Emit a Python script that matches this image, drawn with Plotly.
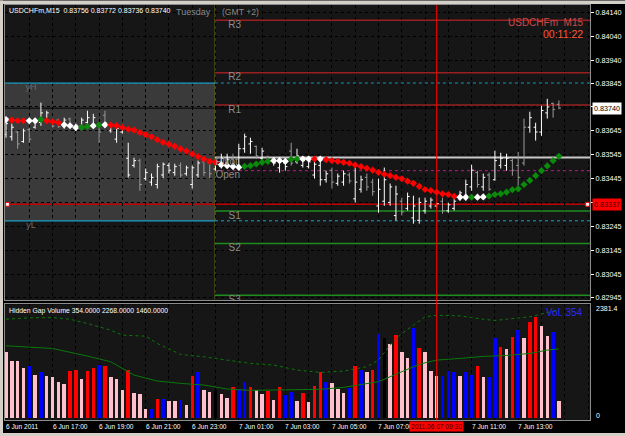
import plotly.graph_objects as go

# ---------------- data ----------------
N = 96
bar_index = list(range(N))  # M15 bars, 6 Jun 15:00 .. 7 Jun 14:45

opens = [0.83630,0.83620,0.83640,0.83600,0.83650,0.83660,0.83680,0.83690,0.83680,0.83690,
         0.83665,0.83695,0.83655,0.83665,0.83680,0.83670,0.83675,0.83710,0.83645,0.83610,
         0.83640,0.83530,0.83500,0.83520,0.83445,0.83430,0.83420,0.83460,0.83500,0.83470,
         0.83500,0.83465,0.83420,0.83460,0.83515,0.83510,0.83485,0.83495,0.83510,0.83530,
         0.83500,0.83570,0.83590,0.83580,0.83530,0.83535,0.83520,0.83490,0.83510,0.83560,
         0.83515,0.83500,0.83495,0.83460,0.83500,0.83440,0.83480,0.83425,0.83430,0.83460,
         0.83360,0.83400,0.83450,0.83430,0.83330,0.83350,0.83345,0.83290,0.83350,0.83320,
         0.83280,0.83270,0.83310,0.83330,0.83330,0.83350,0.83310,0.83320,0.83360,0.83360,
         0.83410,0.83470,0.83410,0.83460,0.83440,0.83500,0.83500,0.83520,0.83500,0.83510,
         0.83660,0.83660,0.83640,0.83720,0.83760,0.83756]
highs = [0.83696,0.83675,0.83645,0.83654,0.83658,0.83687,0.83763,0.83729,0.83687,0.83696,
         0.83700,0.83700,0.83675,0.83700,0.83729,0.83716,0.83679,0.83729,0.83675,0.83666,
         0.83658,0.83595,0.83532,0.83528,0.83487,0.83466,0.83507,0.83512,0.83512,0.83507,
         0.83512,0.83499,0.83499,0.83520,0.83528,0.83528,0.83512,0.83549,0.83549,0.83549,
         0.83591,0.83633,0.83616,0.83583,0.83574,0.83541,0.83532,0.83532,0.83520,0.83595,
         0.83570,0.83532,0.83528,0.83520,0.83528,0.83478,0.83491,0.83466,0.83478,0.83470,
         0.83491,0.83457,0.83466,0.83445,0.83445,0.83491,0.83424,0.83415,0.83365,0.83386,
         0.83373,0.83365,0.83365,0.83365,0.83344,0.83365,0.83344,0.83365,0.83394,0.83440,
         0.83503,0.83478,0.83466,0.83470,0.83562,0.83553,0.83549,0.83528,0.83557,0.83696,
         0.83725,0.83679,0.83750,0.83779,0.83763,0.83772]
lows = [0.83616,0.83604,0.83570,0.83595,0.83595,0.83654,0.83666,0.83679,0.83658,0.83658,
        0.83654,0.83658,0.83645,0.83658,0.83666,0.83658,0.83595,0.83666,0.83637,0.83595,
        0.83633,0.83449,0.83491,0.83394,0.83436,0.83415,0.83403,0.83445,0.83466,0.83457,
        0.83449,0.83457,0.83403,0.83449,0.83457,0.83445,0.83478,0.83487,0.83499,0.83491,
        0.83487,0.83553,0.83549,0.83528,0.83520,0.83512,0.83499,0.83470,0.83478,0.83499,
        0.83507,0.83491,0.83487,0.83445,0.83415,0.83428,0.83403,0.83415,0.83415,0.83424,
        0.83344,0.83386,0.83394,0.83373,0.83302,0.83331,0.83331,0.83269,0.83290,0.83311,
        0.83256,0.83256,0.83298,0.83319,0.83323,0.83298,0.83302,0.83311,0.83352,0.83352,
        0.83394,0.83407,0.83394,0.83394,0.83436,0.83487,0.83478,0.83457,0.83415,0.83499,
        0.83637,0.83604,0.83624,0.83696,0.83700,0.83736]
closes = [0.83675,0.83660,0.83590,0.83645,0.83610,0.83680,0.83720,0.83720,0.83665,0.83662,
          0.83690,0.83670,0.83668,0.83690,0.83700,0.83700,0.83640,0.83680,0.83670,0.83655,
          0.83655,0.83460,0.83520,0.83420,0.83470,0.83450,0.83495,0.83505,0.83480,0.83495,
          0.83460,0.83490,0.83490,0.83510,0.83470,0.83465,0.83505,0.83530,0.83525,0.83505,
          0.83570,0.83620,0.83600,0.83540,0.83560,0.83520,0.83510,0.83525,0.83495,0.83510,
          0.83540,0.83520,0.83515,0.83505,0.83440,0.83465,0.83430,0.83455,0.83465,0.83435,
          0.83430,0.83440,0.83410,0.83390,0.83400,0.83440,0.83410,0.83380,0.83305,0.83370,
          0.83330,0.83345,0.83350,0.83355,0.83340,0.83310,0.83335,0.83350,0.83385,0.83420,
          0.83480,0.83420,0.83450,0.83400,0.83520,0.83530,0.83530,0.83480,0.83450,0.83660,
          0.83700,0.83640,0.83730,0.83745,0.83735,0.83740]
bar_tone = list("WWGWGWWWGG" "WGWWWWGGWW" "WWWGWWWWWW" "GWWWGGWWWG" "WWWGWGWWWG"
                "WWWWWWGWWG" "WWGGWWWWGW" "WWWWWGWWWW" "WGWGWWWGGG" "WWWWGG")

ma_dots = [0.83692,0.83690,0.83687,0.83687,0.83687,0.83687,0.83692,0.83687,0.83683,0.83679,
           0.83670,0.83666,0.83659,0.83659,0.83663,0.83666,0.83669,0.83670,0.83669,0.83666,
           0.83659,0.83652,0.83648,0.83638,0.83629,0.83620,0.83608,0.83597,0.83589,0.83580,
           0.83569,0.83560,0.83548,0.83537,0.83527,0.83517,0.83513,0.83503,0.83499,0.83495,
           0.83492,0.83496,0.83499,0.83506,0.83513,0.83517,0.83520,0.83520,0.83517,0.83526,
           0.83527,0.83527,0.83527,0.83527,0.83527,0.83524,0.83520,0.83517,0.83513,0.83509,
           0.83502,0.83495,0.83488,0.83480,0.83471,0.83463,0.83457,0.83450,0.83444,0.83434,
           0.83425,0.83412,0.83399,0.83395,0.83388,0.83381,0.83378,0.83371,0.83367,0.83367,
           0.83367,0.83367,0.83368,0.83372,0.83378,0.83381,0.83388,0.83398,0.83402,0.83420,
           0.83437,0.83457,0.83478,0.83498,0.83520,0.83538]
ma_state = list("WRRRWWGRRR" "WWWGGWGWRR" "RRRRRRRRRR" "RRRRRRRWWW" "WGGGGGWWWG"
                "GWWRWRRRRR" "RRRRRRRRRR" "RRRRRRRRWW" "GWWGGGGGGG" "GGGGGG")

volumes = [1400,1204,1204,1050,1099,910,966,875,868,749,
           721,994,1015,826,994,1057,1120,1085,868,826,
           595,1015,532,511,182,196,399,399,364,364,
           378,280,875,966,588,539,595,511,427,658,
           609,756,658,581,511,574,385,658,490,546,
           364,525,343,679,973,756,742,616,525,630,
           1092,1001,959,1015,1764,1680,1561,1750,1386,1267,
           1890,1477,1386,987,875,889,994,973,882,973,
           910,1092,854,861,1680,1505,1463,1701,1855,1694,
           2016,2135,1946,1729,1813,354]
vol_state = list("PPPPBPBPPP" "PRRPRRBRPP" "PRPPPBRBPP" "BPRBPPKPPR" "BBRPPRPRBB"
                 "PRPRRBPPPB" "RBPRBKPRPP" "BRPPPBBBPB" "BRPBBRPRBP" "RRPPBP")

vma_idx = [0,8,14,18,22,26,30,34,38,42,46,50,54,58,62,64,66,68,70,72,74,78,82,86,90,93,95]
vma_val = [1526,1470,1309,1190,910,784,735,700,616,588,595,609,609,651,728,770,875,980,
           1085,1169,1225,1260,1302,1323,1365,1435,1460]
vband_idx = [0,4,8,11,14,18,20,24,26,30,34,38,42,46,50,54,58,62,64,66,68,70,72,74,78,82,84,86,90,93,95]
vband_val = [2086,2114,2121,2086,1995,1855,1750,1729,1575,1344,1295,1225,1155,1120,1015,966,
             994,1085,1225,1540,1785,1960,2135,2170,2156,2086,2058,2086,2135,2226,2268]

pivot_names = ["R3", "R2", "R1", "S1", "S2", "S3"]
pivot_vals = [0.84108, 0.83888, 0.83753, 0.83309, 0.83173, 0.82956]
pivot_main = 0.83533
day_open = 0.83478
y_high = 0.83845
y_low = 0.83268
hline_price = 0.83337
bid_price = 0.83740
day_start_bar = 36      # 7 Jun 00:00
cursor_bar = 74         # 7 Jun 09:30

price_ticks = [0.84140, 0.84040, 0.83940, 0.83845, 0.83745, 0.83645, 0.83545,
               0.83445, 0.83345, 0.83245, 0.83145, 0.83045, 0.82945]
price_tick_text = ["0.84140", "0.84040", "0.83940", "0.83845", "", "0.83645", "0.83545",
                   "0.83445", "", "0.83245", "0.83145", "0.83045", "0.82945"]
date_label_bars = [0, 8, 16, 24, 32, 40, 48, 56, 64, 80, 88]
date_label_text = ["6 Jun 2011", "6 Jun 17:00", "6 Jun 19:00", "6 Jun 21:00", "6 Jun 23:00",
                   "7 Jun 01:00", "7 Jun 03:00", "7 Jun 05:00", "7 Jun 07:00",
                   "7 Jun 11:00", "7 Jun 13:00"]
grid_bars = list(range(0, 101, 4))

# ---------------- styling ----------------
FONT = "Liberation Sans, Arial, sans-serif"
BG = "#161616"
tone_color = {"W": "#ffffff", "G": "#9a9a9a"}
dot_color = {"W": "#ffffff", "R": "#ff0000", "G": "#0b8a0b"}
vol_color = {"P": "#ffc0cb", "B": "#0000ff", "R": "#ff0000", "K": "#000000"}

fig = go.Figure()

for tone in ("W", "G"):
    sel = [i for i in bar_index if bar_tone[i] == tone]
    c = tone_color[tone]
    fig.add_trace(go.Ohlc(
        x=[bar_index[i] for i in sel],
        open=[opens[i] for i in sel], high=[highs[i] for i in sel],
        low=[lows[i] for i in sel], close=[closes[i] for i in sel],
        increasing=dict(line=dict(color=c, width=1)),
        decreasing=dict(line=dict(color=c, width=1)),
        tickwidth=0.35, hoverinfo="skip", showlegend=False,
        xaxis="x", yaxis="y"))

fig.add_trace(go.Scatter(
    x=bar_index, y=ma_dots, mode="markers",
    marker=dict(symbol="diamond", size=5.5, color=[dot_color[s] for s in ma_state],
                line=dict(width=0)),
    hoverinfo="skip", showlegend=False, xaxis="x", yaxis="y"))

# pivot labels (clipped to the main pane)
fig.add_trace(go.Scatter(
    x=[day_start_bar + 3.3] * len(pivot_names), y=pivot_vals, mode="text",
    text=pivot_names, textposition="bottom center",
    textfont=dict(family=FONT, size=10, color="#8c8c8c"),
    hoverinfo="skip", showlegend=False, xaxis="x", yaxis="y"))
fig.add_trace(go.Scatter(
    x=[day_start_bar, day_start_bar], y=[day_open, pivot_main], mode="text",
    text=["Open", "Pivot"], textposition="bottom right",
    textfont=dict(family=FONT, size=10, color="#8c8c8c"),
    hoverinfo="skip", showlegend=False, xaxis="x", yaxis="y"))
fig.add_trace(go.Scatter(
    x=[4.3, 4.3], y=[y_high, y_low], mode="text",
    text=["yH", "yL"], textposition="bottom center",
    textfont=dict(family=FONT, size=9, color="#6a6a6a"),
    hoverinfo="skip", showlegend=False, xaxis="x", yaxis="y"))

fig.add_trace(go.Bar(
    x=bar_index, y=volumes, width=0.6,
    marker=dict(color=[vol_color[s] for s in vol_state], line=dict(width=0)),
    hoverinfo="skip", showlegend=False, xaxis="x2", yaxis="y2"))
fig.add_trace(go.Scatter(
    x=vma_idx, y=vma_val, mode="lines", line=dict(color="#0a780a", width=1),
    hoverinfo="skip", showlegend=False, xaxis="x2", yaxis="y2"))
fig.add_trace(go.Scatter(
    x=vband_idx, y=vband_val, mode="lines", line=dict(color="#0a780a", width=1, dash="dot"),
    hoverinfo="skip", showlegend=False, xaxis="x2", yaxis="y2"))

# ---------------- shapes ----------------
shapes = []
# previous-day range shading
shapes.append(dict(type="rect", xref="paper", x0=0, x1=0.3605, yref="y", y0=y_low, y1=y_high,
                   fillcolor="#3a3a3a", line=dict(width=0), layer="below"))
for lvl in (y_high, y_low):
    shapes.append(dict(type="line", xref="x", x0=-0.2, x1=day_start_bar - 0.1, yref="y",
                       y0=lvl, y1=lvl, line=dict(color="#1ea0c8", width=1.2), layer="between"))
    shapes.append(dict(type="line", xref="x", x0=day_start_bar - 0.1, x1=100.4, yref="y",
                       y0=lvl, y1=lvl, line=dict(color="#1ea0c8", width=1, dash="dot"),
                       layer="between"))
for name, lvl in zip(pivot_names, pivot_vals):
    col = "#9a2020" if name.startswith("R") else "#1e8c1e"
    shapes.append(dict(type="line", xref="x", x0=day_start_bar - 0.1, x1=100.4, yref="y",
                       y0=lvl, y1=lvl, line=dict(color=col, width=1.5), layer="between"))
shapes.append(dict(type="line", xref="x", x0=day_start_bar - 0.1, x1=100.4, yref="y",
                   y0=pivot_main, y1=pivot_main, line=dict(color="#c8c8c8", width=2),
                   layer="between"))
shapes.append(dict(type="line", xref="x", x0=day_start_bar - 0.1, x1=100.4, yref="y",
                   y0=day_open, y1=day_open, line=dict(color="#b0207e", width=1, dash="dot"),
                   layer="between"))
shapes.append(dict(type="line", xref="paper", x0=0, x1=1, yref="y",
                   y0=hline_price, y1=hline_price, line=dict(color="#c00000", width=1.5),
                   layer="between"))
shapes.append(dict(type="line", xref="paper", x0=0, x1=1, yref="y",
                   y0=bid_price, y1=bid_price, line=dict(color="#000000", width=1),
                   layer="between"))
# day separator
shapes.append(dict(type="line", xref="x", x0=day_start_bar - 0.1, x1=day_start_bar - 0.1,
                   yref="paper", y0=0.2885, y1=1, line=dict(color="#5e5e10", width=1),
                   layer="between"))
# cursor vertical line through both panes
shapes.append(dict(type="line", xref="x", x0=cursor_bar, x1=cursor_bar, yref="paper",
                   y0=0, y1=1, line=dict(color="#ff0000", width=1), layer="above"))
# small line-end squares
for x0, x1 in ((0.001, 0.0075), (0.9925, 0.999)):
    shapes.append(dict(type="rect", xref="paper", x0=x0, x1=x1, yref="y",
                       y0=hline_price - 0.00008, y1=hline_price + 0.00008,
                       fillcolor="#ffffff", line=dict(color="#ff0000", width=1), layer="above"))
# window chrome
chrome = "#d4d0c8"
shapes.append(dict(type="rect", xref="paper", yref="paper", x0=-0.01, x1=1.06, y0=1.0024,
                   y1=1.011, fillcolor=chrome, line=dict(width=0)))
shapes.append(dict(type="rect", xref="paper", yref="paper", x0=-0.01, x1=-0.0034, y0=-0.04,
                   y1=1.011, fillcolor=chrome, line=dict(width=0)))
shapes.append(dict(type="rect", xref="paper", yref="paper", x0=-0.01, x1=1.06, y0=-0.04,
                   y1=-0.0315, fillcolor=chrome, line=dict(width=0)))

# ---------------- annotations ----------------
ann = []
def txt(text, x, y, size, color, xanchor="left", xref="paper", yref="paper", **kw):
    d = dict(text=text, x=x, y=y, xref=xref, yref=yref, xanchor=xanchor, yanchor="middle",
             showarrow=False, font=dict(family=FONT, size=size, color=color))
    d.update(kw)
    ann.append(d)

txt("USDCHFm,M15  0.83756 0.83772 0.83736 0.83740", 0.0034, 0.9856, 7, "#ffffff")
txt("Tuesday", 0.289, 0.9832, 9, "#8a8a8a")
txt("(GMT +2)", 0.367, 0.9832, 8.6, "#8a8a8a")
txt("USDCHFm  M15", 0.9915, 0.959, 10, "#cc4a4a", xanchor="right")
txt("00:11:22", 0.9915, 0.9303, 10.5, "#ff5533", xanchor="right")
txt("Hidden Gap Volume 354.0000 2268.0000 1460.0000", 0.0034, 0.262, 6.8, "#ffffff")
txt("Vol. 354", 0.9915, 0.260, 10, "#2a2aff", xanchor="right")
txt("2381.4", 1.007, 0.2692, 7, "#ffffff")
txt("0", 1.007, 0.012, 7, "#ffffff")
txt("0.83740", 1.003, bid_price, 7.2, "#000000", yref="y", bgcolor="#ffffff", borderpad=1)
txt("0.83337", 1.003, hline_price, 7.2, "#400000", yref="y", bgcolor="#ff0000", borderpad=1)
for b, t in zip(date_label_bars, date_label_text):
    txt(t, b, -0.0168, 6.6, "#ffffff", xref="x", xshift=-2)
txt("2011.06.07 09:30", cursor_bar, -0.0168, 6.6, "#3a0000", xanchor="center", xref="x",
    bgcolor="#ff0000", borderpad=1)

axis_common = dict(showline=True, linecolor="#8c8c8c", linewidth=1, mirror=True,
                   zeroline=False, fixedrange=True)

fig.update_layout(
    width=625, height=436,
    margin=dict(l=5, r=32, t=4, b=16),
    paper_bgcolor="#000000", plot_bgcolor=BG,
    showlegend=False, bargap=0, barmode="overlay",
    shapes=shapes, annotations=ann,
    xaxis=dict(domain=[0, 1], anchor="y", range=[-0.171, 100.34],
               tickvals=grid_bars, showticklabels=False, ticks="",
               showgrid=True, gridcolor="#000000", griddash="dot", gridwidth=1,
               rangeslider=dict(visible=False), **axis_common),
    xaxis2=dict(domain=[0, 1], anchor="y2", matches="x", range=[-0.171, 100.34],
                tickvals=grid_bars, showticklabels=False, ticks="",
                showgrid=True, gridcolor="#000000", griddash="dot", gridwidth=1,
                **axis_common),
    yaxis=dict(domain=[0.28846, 1], anchor="x", range=[0.82935, 0.84172], side="right",
               tickvals=price_ticks, ticktext=price_tick_text,
               tickfont=dict(family=FONT, size=7.2, color="#ffffff"),
               ticks="outside", ticklen=3, tickcolor="#ffffff",
               showgrid=True, gridcolor="#000000", griddash="dot", gridwidth=1,
               **axis_common),
    yaxis2=dict(domain=[0, 0.27885], anchor="x2", range=[-36, 2400], side="right",
                showticklabels=False, ticks="", showgrid=False, **axis_common),
)

fig.write_html("out.html")
